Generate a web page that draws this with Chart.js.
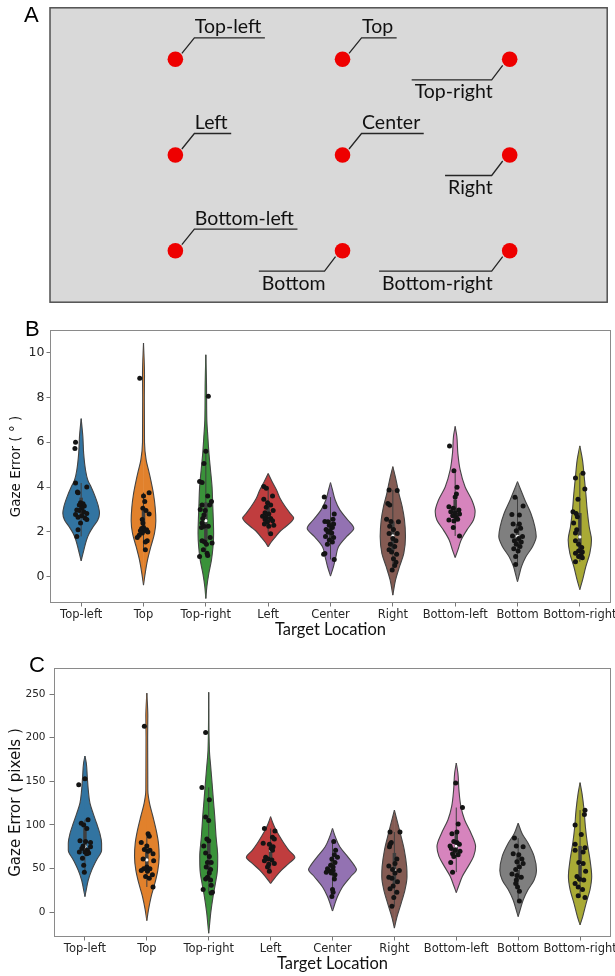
<!DOCTYPE html>
<html>
<head>
<meta charset="utf-8">
<script src="https://cdn.jsdelivr.net/npm/chart.js@4.4.1/dist/chart.umd.min.js"></script>
<style>
  body { margin: 0; background: #fff; width: 615px; height: 976px; position: relative; overflow: hidden; }
  canvas { position: absolute; left: 0; }
  .tag { position: absolute; font: 22px/22px "Liberation Sans", Arial, sans-serif; color: #000; }
</style>
</head>
<body>
<canvas id="targets" width="615" height="310" style="top:0"></canvas>
<canvas id="degChart" width="615" height="340" style="top:312px"></canvas>
<canvas id="pxChart" width="615" height="326" style="top:650px"></canvas>
<div class="tag" style="left:24px;top:4px">A</div>
<div class="tag" style="left:25px;top:318px">B</div>
<div class="tag" style="left:29px;top:654px">C</div>
<script>
const categories = ['Top-left', 'Top', 'Top-right', 'Left', 'Center', 'Right', 'Bottom-left', 'Bottom', 'Bottom-right'];

// panel A: where each target sits on the screen (fraction of width / height)
const targetX = [0.225, 0.525, 0.825, 0.225, 0.525, 0.825, 0.225, 0.525, 0.825];
const targetY = [0.175, 0.175, 0.175, 0.5, 0.5, 0.5, 0.825, 0.825, 0.825];

const degTicks = [0, 2, 4, 6, 8, 10];
const pxTicks = [0, 50, 100, 150, 200, 250];

// violin outlines: [error, half width], bottom tip -> top tip
const degOutline = [
    [[0.71,0],[1.19,0.043],[1.64,0.086],[1.93,0.128],[2.23,0.193],[2.53,0.267],[2.83,0.294],[3.12,0.278],[3.57,0.225],[4.0,0.16],[4.3,0.107],[4.76,0.07],[5.5,0.04],[6.25,0.027],[7.05,0]],
    [[-0.37,0],[0.15,0.027],[0.74,0.064],[1.34,0.118],[1.93,0.176],[2.5,0.198],[3.1,0.187],[3.7,0.16],[4.3,0.118],[4.76,0.08],[5.2,0.043],[6.0,0.016],[8.0,0.013],[9.0,0.016],[10.42,0]],
    [[-0.97,0],[-0.45,0.016],[0.15,0.048],[0.74,0.09],[1.34,0.115],[1.93,0.125],[2.53,0.12],[3.27,0.11],[4.0,0.1],[4.76,0.075],[5.5,0.05],[6.25,0.032],[7.0,0.016],[8.5,0.011],[9.9,0]],
    [[1.34,0],[1.55,0.05],[1.79,0.12],[2.05,0.2],[2.23,0.28],[2.45,0.37],[2.62,0.41],[2.8,0.36],[3.13,0.273],[3.5,0.19],[3.87,0.134],[4.2,0.07],[4.6,0]],
    [[0.03,0],[0.45,0.048],[0.89,0.086],[1.34,0.128],[1.79,0.257],[2.16,0.374],[2.53,0.278],[2.98,0.15],[3.42,0.075],[3.87,0.032],[4.2,0]],
    [[-0.82,0],[-0.15,0.043],[0.45,0.107],[1.04,0.176],[1.79,0.203],[2.53,0.187],[3.13,0.15],[3.72,0.096],[4.3,0.053],[4.91,0]],
    [[0.86,0],[1.19,0.043],[1.64,0.096],[2.08,0.187],[2.53,0.294],[2.9,0.32],[3.42,0.267],[4.0,0.16],[4.76,0.08],[5.5,0.043],[6.25,0.027],[6.7,0]],
    [[-0.22,0],[0.07,0.027],[0.45,0.064],[0.89,0.134],[1.34,0.24],[1.79,0.3],[2.23,0.278],[2.83,0.214],[3.42,0.118],[3.87,0.053],[4.24,0]],
    [[-0.57,0],[-0.15,0.043],[0.45,0.096],[1.04,0.16],[1.64,0.187],[2.23,0.15],[2.98,0.118],[3.72,0.096],[4.46,0.07],[5.2,0.043],[5.83,0]]
];

// strip points: [error, jitter]
const degPoints = [
    [[6.0,-.09],[5.72,-.1],[4.18,-.09],[4.0,.09],[3.78,-.06],[3.75,-.05],[3.3,-.01],[3.25,.03],[3.2,-.03],[3.15,.05],[3.05,.01],[2.98,-.07],[2.95,-.03],[2.9,.04],[2.82,.09],[2.78,-.09],[2.72,.01],[2.65,-.05],[2.62,.06],[2.55,.09],[2.4,-.01],[2.1,-.05],[1.8,-.07]],
    [[8.85,-.06],[3.75,.09],[3.6,0],[3.35,.02],[3.05,-.01],[2.95,.04],[2.8,.09],[2.55,-.02],[2.4,-.01],[2.2,0],[2.15,-.03],[2.1,.05],[2.05,.02],[2.05,-.05],[2.0,.07],[1.95,-.02],[1.85,-.07],[1.75,-.1],[1.6,.06],[1.55,.03],[1.2,.03]],
    [[8.05,.04],[5.6,0],[5.05,-.03],[4.25,-.1],[4.2,-.06],[3.6,.03],[3.35,.09],[3.2,-.06],[3.2,.06],[3.0,-.09],[2.95,-.01],[2.75,-.03],[2.6,-.05],[2.4,-.06],[2.25,-.03],[2.25,.04],[2.2,-.07],[1.75,.07],[1.6,-.06],[1.55,-.02],[1.5,.1],[1.45,.01],[1.2,-.04],[1.05,.02],[0.95,.03],[0.9,-.1]],
    [[4.02,-.07],[3.95,-.03],[3.6,.07],[3.45,-.07],[3.3,-.01],[3.2,.04],[3.1,-.03],[2.95,.08],[2.85,-.05],[2.8,.01],[2.7,-.09],[2.65,-.03],[2.6,.04],[2.55,-.05],[2.5,.07],[2.45,-.01],[2.35,-.06],[2.3,.09],[2.25,.01],[1.92,.04]],
    [[3.55,-.1],[3.12,-.09],[2.8,.06],[2.56,.04],[2.46,-.09],[2.45,-.04],[2.35,.05],[2.3,-.02],[2.2,.03],[2.11,-.07],[2.05,-.01],[1.98,-.04],[1.95,.02],[1.79,-.08],[1.75,.05],[1.64,-.02],[1.55,.03],[1.45,-.05],[1.04,-.09],[1.0,-.11],[0.77,.06]],
    [[3.87,-.06],[3.84,.07],[3.27,-.08],[3.2,-.05],[2.56,-.1],[2.46,-.03],[2.45,.09],[2.25,-.05],[2.11,.01],[1.93,-.06],[1.93,.07],[1.71,0],[1.6,.05],[1.45,-.04],[1.35,.03],[1.2,-.06],[1.1,-.02],[1.0,.06],[0.8,.01],[0.65,.05],[0.5,.03],[0.3,-.01]],
    [[5.83,-.09],[4.72,-.02],[3.99,.03],[3.69,.02],[3.55,0],[3.12,-.1],[3.05,-.03],[2.98,.06],[2.9,-.07],[2.85,0],[2.8,.07],[2.72,-.04],[2.65,.02],[2.53,-.1],[2.48,-.02],[2.56,.04],[2.2,-.03],[1.82,.07]],
    [[3.54,-.04],[3.15,.09],[2.77,-.09],[2.75,.03],[2.35,.03],[2.35,-.07],[2.16,.05],[2.05,-.02],[1.82,-.08],[1.8,.08],[1.7,.02],[1.6,-.05],[1.55,.06],[1.45,-.02],[1.35,.04],[1.25,-.06],[1.15,.01],[0.9,-.03],[0.55,-.03]],
    [[4.61,.05],[4.4,-.07],[3.91,.08],[3.45,-.03],[2.9,-.11],[2.82,-.06],[2.68,-.04],[2.4,-.1],[2.1,-.05],[1.95,-.07],[1.6,-.07],[1.45,-.02],[1.3,.03],[1.15,-.02],[1.1,.04],[1.05,-.07],[0.95,.02],[0.9,-.02],[0.85,.04],[0.67,-.07]]
];

const pxOutline = [
    [[18,0],[26,0.022],[37,0.054],[48,0.108],[60,0.188],[71,0.269],[79,0.269],[90,0.242],[102,0.188],[113,0.134],[125,0.081],[140,0.054],[155,0.038],[171,0.022],[179,0]],
    [[-9.5,0],[3,0.027],[18,0.07],[33,0.129],[48,0.177],[64,0.199],[79,0.188],[94,0.151],[110,0.097],[125,0.043],[140,0.016],[200,0.013],[225,0.016],[251,0]],
    [[-24,0],[-12.6,0.016],[-1,0.032],[18,0.07],[33,0.108],[48,0.14],[64,0.145],[87,0.118],[110,0.097],[129,0.075],[148,0.054],[167,0.032],[186,0.011],[252,0]],
    [[33,0],[40,0.075],[48,0.172],[56,0.296],[63,0.392],[71,0.296],[79,0.215],[87,0.145],[95,0.081],[102,0.038],[109.5,0]],
    [[1.5,0],[8.4,0.032],[18,0.081],[29,0.161],[41,0.296],[49,0.387],[54,0.349],[64,0.242],[75,0.118],[87,0.043],[96,0]],
    [[-18,0],[-5,0.043],[10,0.108],[26,0.172],[41,0.204],[52,0.199],[71,0.161],[87,0.108],[102,0.054],[117,0]],
    [[22.5,0],[31,0.043],[41,0.097],[52,0.188],[64,0.28],[75,0.312],[90,0.242],[106,0.134],[121,0.075],[140,0.043],[159,0.027],[171,0]],
    [[-5,0],[2.7,0.032],[14,0.081],[26,0.161],[37,0.258],[48,0.296],[64,0.258],[79,0.161],[90,0.065],[102,0]],
    [[-14.5,0],[-5,0.043],[10,0.097],[26,0.161],[41,0.188],[60,0.161],[79,0.118],[98,0.086],[117,0.065],[136,0.032],[148.5,0]]
];

const pxPoints = [
    [[146,-.1],[153,0],[102,-.06],[106,.05],[100,-.02],[96,.03],[82,-.08],[81,.01],[80,.09],[76,-.03],[75,.09],[73,-.05],[71,.04],[69,-.09],[69,0],[68,.06],[67,.03],[62,-.04],[54,-.02],[46,-.01]],
    [[213,-.04],[90,.02],[87,.04],[80,-.09],[76,0],[72,-.04],[71,.05],[70,.02],[67,.1],[61,-.06],[59,.11],[52,0],[50,-.05],[50,.05],[48,-.09],[47,.01],[43,.09],[41,-.02],[39,.04],[29,.1]],
    [[206,-.05],[143,-.11],[129,.01],[109,-.05],[105,0],[84,-.03],[82,0],[76,-.08],[68,-.05],[64,.01],[57,.04],[57,-.02],[52,-.04],[49,.03],[45,.01],[40,-.02],[38,-.05],[37,.03],[31,.04],[26,-.09],[23,.06],[22,.04]],
    [[96,-.1],[93,.07],[86,.03],[84,.06],[79,-.12],[78,-.02],[75,.04],[73,.01],[71,.03],[63,-.08],[61,-.04],[60,.02],[59,-.1],[56,.06],[55,-.03],[52,-.05],[47,-.02]],
    [[81,.02],[71,.05],[66,.03],[63,.08],[61,-.01],[57,.04],[54,-.03],[52,.01],[50,-.08],[48,-.06],[48,.01],[46,-.1],[45,-.02],[43,.04],[38,.03],[26,0],[23,.01],[18,-.01]],
    [[92,-.07],[92,.09],[80,-.05],[78,-.07],[75,-.08],[61,.04],[56,.01],[53,-.09],[49,-.03],[48,.08],[45,.01],[40,-.09],[39,-.04],[35,.05],[30,-.02],[27,-.07],[23,.04],[17,-.01],[7,-.04]],
    [[148,-.01],[120,.1],[101,.03],[92,.01],[90,-.07],[81,-.04],[80,.01],[78,.05],[76,-.1],[73,-.08],[71,-.02],[70,.06],[67,-.06],[66,.03],[64,-.04],[57,-.09],[46,-.06]],
    [[85,-.06],[76,-.03],[75,.08],[67,-.08],[66,.01],[61,.06],[58,-.02],[56,.08],[52,.02],[49,-.04],[44,-.1],[42,-.02],[40,.05],[37,-.03],[33,-.04],[29,-.01],[24,.02],[13,.02]],
    [[117,.08],[112,.07],[100,-.08],[89,.02],[78,-.08],[74,.08],[71,-.08],[69,.05],[57,-.02],[56,.05],[47,.09],[41,-.05],[38,-.01],[37,.06],[33,-.08],[29,-.03],[26,.04],[19,-.03],[17,.08]]
];

const violinColors = ['#3274a1', '#e1812c', '#3a923a', '#c03d3e', '#9372b2', '#845b53', '#d684bd', '#7f7f7f', '#a9aa35'];
const labelBelow = [false, false, true, false, false, true, false, true, true];

Chart.defaults.font.family = 'DejaVu Sans';

// ---------- panel A ----------
const screenBox = {
    id: 'screenBox',
    beforeDatasetsDraw(chart) {
        const {ctx, chartArea: a} = chart;
        ctx.save();
        ctx.fillStyle = '#d9d9d9';
        ctx.fillRect(a.left, a.top, a.width, a.height);
        ctx.strokeStyle = '#505050';
        ctx.lineWidth = 1.5;
        ctx.strokeRect(a.left, a.top, a.width, a.height);
        ctx.restore();
    }
};

const targetLabels = {
    id: 'targetLabels',
    afterDatasetsDraw(chart) {
        const ctx = chart.ctx;
        const pts = chart.getDatasetMeta(0).data;
        ctx.save();
        ctx.font = '19.5px Lato';
        ctx.strokeStyle = '#262626';
        ctx.lineWidth = 1.3;
        ctx.fillStyle = '#111';
        pts.forEach((p, i) => {
            const text = categories[i];
            const w = ctx.measureText(text).width;
            ctx.beginPath();
            if (labelBelow[i]) {
                const lx = p.x - 18, ly = p.y + 20.5;
                ctx.moveTo(p.x - 7, p.y + 6);
                ctx.lineTo(lx, ly);
                ctx.lineTo(lx - w - 2, ly);
                ctx.stroke();
                ctx.textAlign = 'right';
                ctx.fillText(text, lx + 1, ly + 18.5);
            } else {
                const lx = p.x + 19, ly = p.y - 21.5;
                ctx.moveTo(p.x + 6.5, p.y - 6);
                ctx.lineTo(lx, ly);
                ctx.lineTo(lx + w + 4, ly);
                ctx.stroke();
                ctx.textAlign = 'left';
                ctx.fillText(text, lx + 0.5, ly - 4.5);
            }
        });
        ctx.restore();
    }
};

new Chart(document.getElementById('targets'), {
    type: 'scatter',
    data: {
        datasets: [{
            data: targetX.map((x, i) => ({x: x, y: targetY[i]})),
            backgroundColor: '#ee0000',
            pointRadius: 7.8,
            borderWidth: 0
        }]
    },
    options: {
        responsive: false,
        animation: false,
        layout: {padding: {left: 50, right: 2, top: 3, bottom: 3}},
        scales: {
            x: {display: false, min: 0, max: 1},
            y: {display: false, min: 0, max: 1, reverse: true}
        },
        plugins: {legend: {display: false}, tooltip: {enabled: false}}
    },
    plugins: [screenBox, targetLabels]
});

// ---------- panels B and C ----------
const frame = {
    id: 'frame',
    afterDatasetsDraw(chart) {
        const {ctx, chartArea: a} = chart;
        ctx.save();
        ctx.strokeStyle = '#8a8a8a';
        ctx.lineWidth = 1;
        ctx.strokeRect(Math.round(a.left) + 0.5, Math.round(a.top) + 0.5, Math.round(a.width) - 1, Math.round(a.height) - 1);
        ctx.restore();
    }
};

function quantile(sorted, q) {
    const pos = (sorted.length - 1) * q;
    const lo = Math.floor(pos), hi = Math.ceil(pos);
    return sorted[lo] + (sorted[hi] - sorted[lo]) * (pos - lo);
}

function violinDatasets(outlines, points) {
    const sets = [];
    outlines.forEach((shape, i) => {
        [1, -1].forEach(side => {
            sets.push({
                type: 'line',
                indexAxis: 'y',
                data: shape.map(([v, w]) => ({x: i + side * w, y: v})),
                borderColor: '#444',
                borderWidth: 1.1,
                backgroundColor: violinColors[i],
                fill: {value: i - side * 0.004},
                cubicInterpolationMode: 'monotone',
                pointRadius: 0,
                order: 4
            });
        });
        // seaborn style inner box
        const vals = points[i].map(p => p[0]).sort((a, b) => a - b);
        const q1 = quantile(vals, 0.25), q2 = quantile(vals, 0.5), q3 = quantile(vals, 0.75);
        const lim = 1.5 * (q3 - q1);
        const lo = Math.min(...vals.filter(v => v >= q1 - lim));
        const hi = Math.max(...vals.filter(v => v <= q3 + lim));
        sets.push({type: 'line', data: [{x: i, y: lo}, {x: i, y: hi}], borderColor: '#3f3f3f', borderWidth: 1, pointRadius: 0, order: 3});
        sets.push({type: 'line', data: [{x: i, y: q1}, {x: i, y: q3}], borderColor: '#3f3f3f', borderWidth: 3.5, borderCapStyle: 'butt', pointRadius: 0, order: 2});
        sets.push({type: 'scatter', data: [{x: i, y: q2}], backgroundColor: '#fff', pointRadius: 1.6, borderWidth: 0, order: 1});
    });
    sets.push({
        type: 'scatter',
        data: points.flatMap((pts, i) => pts.map(([v, j]) => ({x: i + j, y: v}))),
        backgroundColor: '#141414',
        pointRadius: 2.5,
        borderWidth: 0,
        order: 0
    });
    return sets;
}

function errorChart(id, outlines, points, ticks, range, o) {
    return new Chart(document.getElementById(id), {
        type: 'scatter',
        data: {datasets: violinDatasets(outlines, points)},
        options: {
            responsive: false,
            animation: false,
            layout: {padding: {left: 0, right: o.padRight, top: 18, bottom: 0}},
            scales: {
                x: {
                    type: 'linear',
                    min: -0.5,
                    max: 8.5,
                    afterBuildTicks: s => { s.ticks = categories.map((c, i) => ({value: i})); },
                    afterFit: s => { s.height = o.xHeight; s.paddingLeft = 0; s.paddingRight = 0; },
                    ticks: {
                        callback: v => categories[v],
                        autoSkip: false,
                        maxRotation: 0,
                        padding: 1.5,
                        color: '#262626',
                        font: {family: 'DejaVu Sans', size: 11.5}
                    },
                    grid: {drawOnChartArea: false, tickLength: 3.5, tickColor: '#777'},
                    border: {display: false},
                    title: {
                        display: true,
                        text: 'Target Location',
                        color: '#111',
                        font: {family: 'Lato', size: 16.5},
                        padding: {top: 0, bottom: o.xTitlePad}
                    }
                },
                y: {
                    min: range[0],
                    max: range[1],
                    afterBuildTicks: s => { s.ticks = ticks.map(v => ({value: v})); },
                    afterFit: s => { s.width = o.yWidth; s.paddingTop = 0; s.paddingBottom = 0; },
                    ticks: {color: '#262626', padding: o.yTickPad, font: {family: 'DejaVu Sans', size: o.yTickSize}},
                    grid: {drawOnChartArea: false, tickLength: o.yTickLen, tickColor: '#777'},
                    border: {display: false},
                    title: {
                        display: true,
                        text: o.yTitle,
                        color: '#111',
                        font: {family: 'DejaVu Sans', size: o.yTitleSize},
                        padding: {top: o.yTitlePad, bottom: 0}
                    }
                }
            },
            plugins: {legend: {display: false}, tooltip: {enabled: false}}
        },
        plugins: [frame]
    });
}

errorChart('degChart', degOutline, degPoints, degTicks, [-1.17, 11.0], {
    padRight: 4, xHeight: 49, xTitlePad: 12, yWidth: 50,
    yTickSize: 12.5, yTickPad: 2, yTickLen: 3.5,
    yTitle: 'Gaze Error ( ° )', yTitleSize: 13.5, yTitlePad: 8.4
});

errorChart('pxChart', pxOutline, pxPoints, pxTicks, [-28.3, 279.8], {
    padRight: 3, xHeight: 39, xTitlePad: 2.5, yWidth: 54,
    yTickSize: 10.5, yTickPad: 4, yTickLen: 4.5,
    yTitle: 'Gaze Error ( pixels )', yTitleSize: 15, yTitlePad: 7.3
});
</script>
</body>
</html>
